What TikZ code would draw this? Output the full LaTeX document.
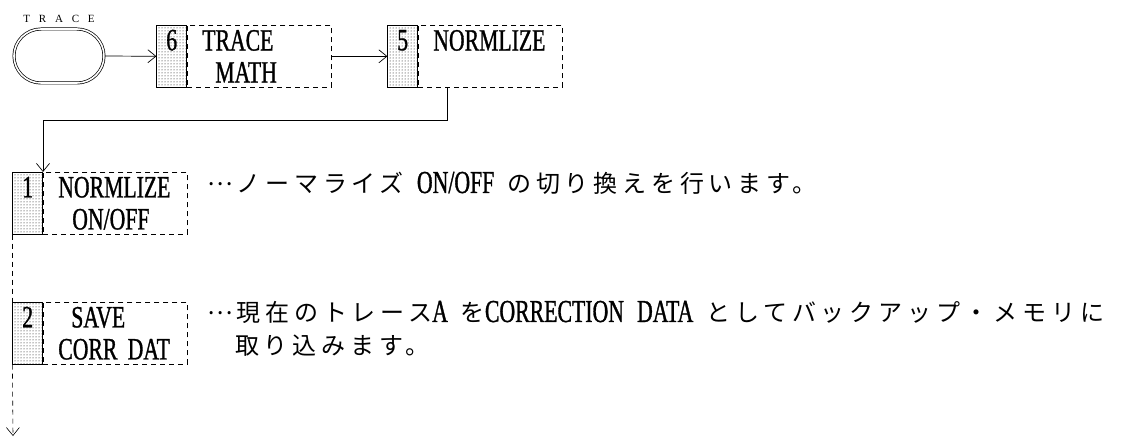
\documentclass[tikz,border=0pt]{standalone}
\usepackage{fontspec}
\usetikzlibrary{arrows.meta,patterns,shapes.misc}
\newfontfamily\boxfont[FakeStretch=0.7, FakeBold=1, WordSpace=2.7]{Liberation Serif}
\newfontfamily\descfont[FakeStretch=0.68, FakeBold=1, WordSpace=2.4]{Liberation Serif}
\newfontfamily\jpfont[LetterSpace=20]{Noto Sans CJK JP}
\newfontfamily\tagfont[LetterSpace=80]{Liberation Serif}
\newcommand\jp[1]{{\jpfont\fontsize{24}{28}\selectfont #1}}
\newcommand\lead{\raisebox{0.3em}{…}\hspace{4pt}}
\begin{document}
\begin{tikzpicture}[x=1pt, y=1pt, every node/.style={inner sep=0pt},
  numcell/.style={draw, line width=0.6pt, pattern=dots, pattern color=black,
    minimum width=30pt, minimum height=62pt, anchor=north east,
    text height=25pt, text depth=37pt, font=\boxfont\fontsize{31}{32}\selectfont},
  keybox/.style={draw, dash pattern=on 5pt off 4pt, line width=0.6pt,
    minimum height=62pt, text width=114pt, inner xsep=15pt, align=left,
    anchor=north west, font=\boxfont\fontsize{31}{32}\selectfont},
  desc/.style={anchor=base west, font=\descfont\fontsize{32}{34}\selectfont},
  link/.style={line width=0.7pt, -{Straight Barb[length=8pt, width=13pt]}}]
  \useasboundingbox (0,0) rectangle (1132,439);
  \node[draw, double, double distance=1.6pt, line width=0.7pt, rounded rectangle,
    minimum width=90pt, minimum height=54pt,
    label={[name=tracelbl, font=\tagfont\fontsize{11}{12}\selectfont, label distance=6pt]90:TRACE}] (trace) at (59,383) {};
  \node[keybox] (mathbox) at (187,414) {TRACE\\\hspace*{13pt}MATH};
  \node[numcell] (mathnum) at (mathbox.north west) {6};
  \node[keybox] (normbox) at (418,414) {NORMLIZE\\\mbox{}};
  \node[numcell] (normnum) at (normbox.north west) {5};
  \node[keybox] (onoffbox) at (43,267) {NORMLIZE\\\hspace*{14pt}ON/OFF};
  \node[numcell] (onoffnum) at (onoffbox.north west) {1};
  \node[keybox] (savebox) at (43,137) {\hspace*{13pt}SAVE\\CORR DAT};
  \node[numcell] (savenum) at (savebox.north west) {2};
  \node[desc] (onoffdesc) at (207,246) {\jp{\lead ノーマライズ} ON/OFF \jp{の切り換えを行います。}};
  \node[desc] (savedesc) at (207,117) {\jp{\lead 現在のトレース}A \jp{を}CORRECTION DATA \jp{としてバックアップ・メモリに}};
  \node[desc] (savecont) at (235,84) {\jp{取り込みます。}};
  \coordinate (turn) at (447,319);
  \coordinate (flowend) at (13,3);
  \draw[link] (trace.east) -- (mathnum.west);
  \draw[link] (mathbox.east) -- (normnum.west);
  \draw[link] (turn |- normbox.south) -- (turn) -| (onoffbox.north west);
  \draw[dash pattern=on 5pt off 4pt, line width=0.6pt] (onoffnum.south west) -- (savenum.north west);
  \draw[link, dash pattern=on 5pt off 4pt, line width=0.6pt] (savenum.south west) -- (flowend);
\end{tikzpicture}
\end{document}
